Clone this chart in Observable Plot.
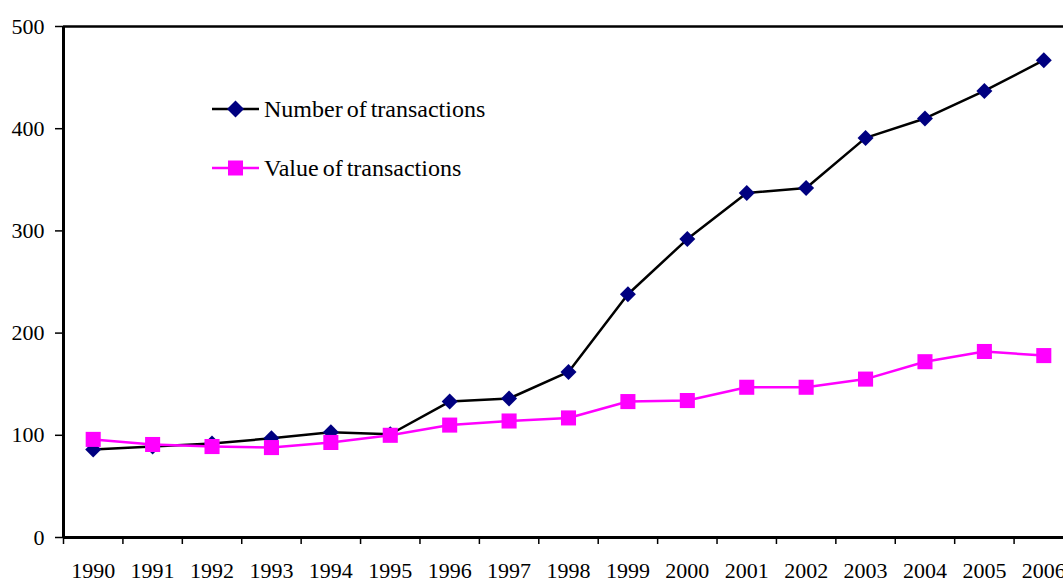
<!DOCTYPE html>
<html>
<head>
<meta charset="utf-8">
<script src="https://cdn.jsdelivr.net/npm/d3@7"></script>
<script src="https://cdn.jsdelivr.net/npm/@observablehq/plot@0.6"></script>
<style>
  html, body { margin: 0; padding: 0; background: white; overflow: hidden; }
  #wrap { position: relative; width: 1063px; height: 581px; }
  .legend { position: absolute; left: 0; top: 0; font-family: "Liberation Serif", "Times New Roman", serif; font-size: 24px; word-spacing: -2px; color: black; }
  .item { position: absolute; display: flex; align-items: center; white-space: nowrap; }
  .item span { margin-left: 5px; }
</style>
</head>
<body>
<div id="wrap"></div>
<script>
const years = [1990,1991,1992,1993,1994,1995,1996,1997,1998,1999,2000,2001,2002,2003,2004,2005,2006];
const numberOfTransactions = [86,89,92,97,103,101,133,136,162,238,292,337,342,391,410,437,467];
const valueOfTransactions = [96,91,89,88,93,100,110,114,117,133,134,147,147,155,172,182,178];
const yTicks = [0,100,200,300,400,500];
const seriesNames = ["Number of transactions", "Value of transactions"];

const numData = years.map((y, i) => ({year: y, v: numberOfTransactions[i]}));
const valData = years.map((y, i) => ({year: y, v: valueOfTransactions[i]}));
const boundaries = years.map(y => y - 0.5);

const chart = Plot.plot({
  width: 1063,
  height: 581,
  marginLeft: 63,
  marginTop: 26,
  marginBottom: 44,
  marginRight: 0,
  x: {domain: [years[0] - 0.5, years[years.length - 1] + 0.5], range: [63, 1073]},
  y: {domain: [0, 500], range: [537, 26]},
  style: {fontFamily: "'Liberation Serif', 'Times New Roman', serif", fontSize: "22px", color: "black", background: "white", overflow: "visible"},
  marks: [
    Plot.axisY({ticks: yTicks, tickSize: 8, tickPadding: 11, tickFormat: d => String(d), stroke: "black", strokeWidth: 1.5, label: null}),
    Plot.axisX({ticks: boundaries, tickSize: 7, tickPadding: 0, tickFormat: () => "", stroke: "black", strokeWidth: 1.5, label: null}),
    Plot.axisX({ticks: years, tickSize: 0, tickPadding: 25, tickFormat: d => String(d), label: null}),
    Plot.ruleY([500], {stroke: "black", strokeWidth: 2.5}),
    Plot.ruleX([years[0] - 0.5], {stroke: "black", strokeWidth: 3}),
    Plot.ruleY([0], {stroke: "black", strokeWidth: 3}),
    Plot.line(numData, {x: "year", y: "v", stroke: "black", strokeWidth: 2.5}),
    Plot.dot(numData, {x: "year", y: "v", symbol: "diamond2", r: 7.2, fill: "#000080"}),
    Plot.line(valData, {x: "year", y: "v", stroke: "#FF00FF", strokeWidth: 2.5}),
    Plot.dot(valData, {x: "year", y: "v", symbol: "square", r: 8.5, fill: "#FF00FF"})
  ]
});

const wrap = document.getElementById("wrap");
wrap.appendChild(chart);

const legend = document.createElement("div");
legend.className = "legend";
legend.innerHTML = `
  <div class="item" style="left:212px; top:96px; height:26px;">
    <svg width="47" height="26"><line x1="0" y1="13" x2="47" y2="13" stroke="black" stroke-width="2.5"/>
    <rect x="17.5" y="7" width="12" height="12" fill="#000080" transform="rotate(45 23.5 13)"/></svg>
    <span>${seriesNames[0]}</span>
  </div>
  <div class="item" style="left:212px; top:155px; height:26px;">
    <svg width="47" height="26"><line x1="0" y1="13" x2="47" y2="13" stroke="#FF00FF" stroke-width="2.5"/>
    <rect x="16" y="5.5" width="15" height="15" fill="#FF00FF"/></svg>
    <span>${seriesNames[1]}</span>
  </div>`;
wrap.appendChild(legend);
</script>
</body>
</html>
